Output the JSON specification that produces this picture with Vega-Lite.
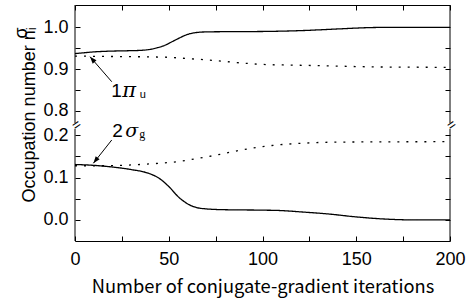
{
  "$schema": "https://vega.github.io/schema/vega-lite/v6.json",
  "autosize": {"type": "none"},
  "padding": {"left": 75, "top": 5, "right": 19, "bottom": 63},
  "background": "white",
  "width": 375,
  "height": 236,
  "config": {
    "view": {"stroke": null},
    "axis": {
      "domainColor": "black", "domainWidth": 1, "tickColor": "black", "tickWidth": 1,
      "tickSize": -5, "grid": false, "labelFont": "Liberation Sans", "labelFontSize": 18,
      "labelColor": "black", "labelOverlap": false, "labelFlush": false,
      "titleColor": "black", "titleFontWeight": "normal"
    }
  },
  "datasets": {
    "top": [
      {"x": 0, "n": 0.937, "s": "solid"}, {"x": 5, "n": 0.939, "s": "solid"}, {"x": 10, "n": 0.941, "s": "solid"},
      {"x": 20, "n": 0.943, "s": "solid"}, {"x": 30, "n": 0.944, "s": "solid"}, {"x": 36, "n": 0.945, "s": "solid"},
      {"x": 40, "n": 0.947, "s": "solid"}, {"x": 44, "n": 0.951, "s": "solid"}, {"x": 48, "n": 0.957, "s": "solid"},
      {"x": 52, "n": 0.966, "s": "solid"}, {"x": 56, "n": 0.975, "s": "solid"}, {"x": 60, "n": 0.983, "s": "solid"},
      {"x": 64, "n": 0.987, "s": "solid"}, {"x": 70, "n": 0.989, "s": "solid"}, {"x": 80, "n": 0.9895, "s": "solid"},
      {"x": 100, "n": 0.990, "s": "solid"}, {"x": 120, "n": 0.992, "s": "solid"}, {"x": 140, "n": 0.996, "s": "solid"},
      {"x": 155, "n": 0.999, "s": "solid"}, {"x": 170, "n": 1.0, "s": "solid"}, {"x": 200, "n": 1.0, "s": "solid"},
      {"x": 0, "n": 0.931, "s": "dotted"}, {"x": 20, "n": 0.930, "s": "dotted"}, {"x": 40, "n": 0.929, "s": "dotted"},
      {"x": 50, "n": 0.928, "s": "dotted"}, {"x": 60, "n": 0.925, "s": "dotted"}, {"x": 70, "n": 0.922, "s": "dotted"},
      {"x": 80, "n": 0.918, "s": "dotted"}, {"x": 90, "n": 0.914, "s": "dotted"}, {"x": 100, "n": 0.911, "s": "dotted"},
      {"x": 120, "n": 0.909, "s": "dotted"}, {"x": 140, "n": 0.907, "s": "dotted"}, {"x": 160, "n": 0.905, "s": "dotted"},
      {"x": 200, "n": 0.904, "s": "dotted"}
    ],
    "bottom": [
      {"x": 0, "n": 0.131, "s": "solid"}, {"x": 10, "n": 0.129, "s": "solid"}, {"x": 20, "n": 0.125, "s": "solid"},
      {"x": 30, "n": 0.119, "s": "solid"}, {"x": 40, "n": 0.109, "s": "solid"}, {"x": 45, "n": 0.098, "s": "solid"},
      {"x": 50, "n": 0.079, "s": "solid"}, {"x": 55, "n": 0.055, "s": "solid"}, {"x": 60, "n": 0.038, "s": "solid"},
      {"x": 65, "n": 0.029, "s": "solid"}, {"x": 70, "n": 0.026, "s": "solid"}, {"x": 80, "n": 0.024, "s": "solid"},
      {"x": 100, "n": 0.023, "s": "solid"}, {"x": 110, "n": 0.022, "s": "solid"}, {"x": 120, "n": 0.019, "s": "solid"},
      {"x": 135, "n": 0.014, "s": "solid"}, {"x": 150, "n": 0.007, "s": "solid"}, {"x": 165, "n": 0.002, "s": "solid"},
      {"x": 180, "n": 0.0, "s": "solid"}, {"x": 200, "n": 0.0, "s": "solid"},
      {"x": 0, "n": 0.128, "s": "dotted"}, {"x": 15, "n": 0.128, "s": "dotted"}, {"x": 30, "n": 0.130, "s": "dotted"},
      {"x": 45, "n": 0.134, "s": "dotted"}, {"x": 55, "n": 0.138, "s": "dotted"}, {"x": 65, "n": 0.145, "s": "dotted"},
      {"x": 75, "n": 0.153, "s": "dotted"}, {"x": 85, "n": 0.162, "s": "dotted"}, {"x": 95, "n": 0.170, "s": "dotted"},
      {"x": 105, "n": 0.176, "s": "dotted"}, {"x": 120, "n": 0.181, "s": "dotted"}, {"x": 140, "n": 0.184, "s": "dotted"},
      {"x": 200, "n": 0.185, "s": "dotted"}
    ],
    "frameTop": [{"x": 0, "y": 0.7705, "y2": 1.0535}, {"x": 200, "y": 0.7705, "y2": 1.0535}],
    "frameBot": [{"x": 0, "y": -0.05, "y2": 0.215}, {"x": 200, "y": -0.05, "y2": 0.215}],
    "arrowTop": [{"x": 19.6, "y": 0.8695, "x2": 8, "y2": 0.9295}],
    "arrowBot": [{"x": 19.6, "y": 0.189, "x2": 9.8, "y2": 0.134}],
    "breaks": [{"x": 0, "y": 0.7705}, {"x": 200, "y": 0.7705}]
  },
  "layer": [
    {
      "data": {"name": "top"},
      "mark": {"type": "line", "color": "black", "strokeWidth": 1.3, "interpolate": "monotone"},
      "encoding": {
        "x": {"field": "x", "type": "quantitative", "scale": {"domain": [0, 200], "nice": false},
              "axis": {"orient": "top", "values": [0, 25, 50, 75, 100, 125, 150, 175, 200], "labels": false, "title": null}},
        "y": {"field": "n", "type": "quantitative", "scale": {"domain": [0.4875, 1.0535], "nice": false, "zero": false},
              "axis": {"orient": "left", "domain": false, "values": [0.8, 0.85, 0.9, 0.95, 1.0], "labelPadding": 12,
                       "labelExpr": "abs(datum.value*10 - round(datum.value*10)) < 0.001 ? format(datum.value, '.1f') : ''",
                       "title": ["σ", "Occupation number nᵢ"], "titleFont": "Liberation Sans", "titleFontSize": 18,
                       "titleAngle": -90, "titleAlign": "right", "titleBaseline": "middle", "titleLineHeight": 8,
                       "titleX": -54, "titleY": 22}},
        "strokeDash": {"field": "s", "type": "nominal", "scale": {"domain": ["solid", "dotted"], "range": [[1, 0], [2, 7]]}, "legend": null}
      }
    },
    {
      "data": {"name": "top"},
      "mark": {"type": "line", "opacity": 0},
      "encoding": {
        "x": {"field": "x", "type": "quantitative", "axis": null},
        "y": {"field": "n", "type": "quantitative", "scale": {"domain": [0.4875, 1.0535], "nice": false, "zero": false},
              "axis": {"orient": "right", "domain": false, "values": [0.8, 0.85, 0.9, 0.95, 1.0], "labels": false, "title": null}},
        "detail": {"field": "s"}
      }
    },
    {
      "data": {"name": "frameTop"},
      "mark": {"type": "rule", "color": "black", "strokeWidth": 1},
      "encoding": {
        "x": {"field": "x", "type": "quantitative", "axis": null},
        "y": {"field": "y", "type": "quantitative", "scale": {"domain": [0.4875, 1.0535], "nice": false, "zero": false}, "axis": null},
        "y2": {"field": "y2"}
      }
    },
    {
      "data": {"name": "arrowTop"},
      "mark": {"type": "rule", "color": "black", "strokeWidth": 1},
      "encoding": {
        "x": {"field": "x", "type": "quantitative", "axis": null},
        "y": {"field": "y", "type": "quantitative", "scale": {"domain": [0.4875, 1.0535], "nice": false, "zero": false}, "axis": null},
        "x2": {"field": "x2"}, "y2": {"field": "y2"}
      }
    },
    {
      "data": {"name": "arrowTop"},
      "mark": {"type": "point", "shape": "M0,0L-0.5,1.4L0.5,1.4Z", "filled": true, "color": "black", "size": 100, "angle": 319, "opacity": 1},
      "encoding": {
        "x": {"field": "x2", "type": "quantitative", "axis": null},
        "y": {"field": "y2", "type": "quantitative", "scale": {"domain": [0.4875, 1.0535], "nice": false, "zero": false}, "axis": null}
      }
    },
    {
      "data": {"values": [{"x": 20.4, "y": 0.832, "t": "1"}]},
      "mark": {"type": "text", "align": "left", "baseline": "alphabetic", "dx": -2, "font": "Liberation Sans", "fontSize": 19, "color": "black"},
      "encoding": {"x": {"field": "x", "type": "quantitative", "axis": null},
                   "y": {"field": "y", "type": "quantitative", "scale": {"domain": [0.4875, 1.0535], "nice": false, "zero": false}, "axis": null},
                   "text": {"field": "t"}}
    },
    {
      "data": {"values": [{"x": 20.4, "y": 0.832, "t": "π"}]},
      "mark": {"type": "text", "align": "left", "baseline": "alphabetic", "dx": 9, "font": "DejaVu Serif", "fontStyle": "italic", "fontSize": 21, "color": "black"},
      "encoding": {"x": {"field": "x", "type": "quantitative", "axis": null},
                   "y": {"field": "y", "type": "quantitative", "scale": {"domain": [0.4875, 1.0535], "nice": false, "zero": false}, "axis": null},
                   "text": {"field": "t"}}
    },
    {
      "data": {"values": [{"x": 20.4, "y": 0.832, "t": "u"}]},
      "mark": {"type": "text", "align": "left", "baseline": "alphabetic", "dx": 26.5, "dy": 1, "font": "Liberation Sans", "fontSize": 11, "color": "black"},
      "encoding": {"x": {"field": "x", "type": "quantitative", "axis": null},
                   "y": {"field": "y", "type": "quantitative", "scale": {"domain": [0.4875, 1.0535], "nice": false, "zero": false}, "axis": null},
                   "text": {"field": "t"}}
    },
    {
      "data": {"name": "breaks"},
      "mark": {"type": "text", "text": "=", "align": "center", "baseline": "middle", "dy": 3, "angle": -35, "font": "Liberation Sans", "fontSize": 14, "color": "black"},
      "encoding": {"x": {"field": "x", "type": "quantitative", "axis": null},
                   "y": {"field": "y", "type": "quantitative", "scale": {"domain": [0.4875, 1.0535], "nice": false, "zero": false}, "axis": null}}
    },
    {
      "data": {"name": "bottom"},
      "mark": {"type": "line", "color": "black", "strokeWidth": 1.3, "interpolate": "monotone"},
      "encoding": {
        "x": {"field": "x", "type": "quantitative",
              "axis": {"orient": "bottom", "values": [0, 25, 50, 75, 100, 125, 150, 175, 200], "labelPadding": 14,
                       "labelExpr": "datum.value % 50 === 0 ? datum.label : ''",
                       "title": "Number of conjugate-gradient iterations", "titleFont": "Noto Sans CJK JP", "titleFontSize": 18.3, "titlePadding": 10}},
        "y": {"field": "n", "type": "quantitative", "scale": {"domain": [-0.05, 0.5084], "nice": false, "zero": false},
              "axis": {"orient": "left", "domain": false, "values": [0, 0.05, 0.1, 0.15, 0.2], "labelPadding": 12,
                       "labelExpr": "abs(datum.value*10 - round(datum.value*10)) < 0.001 ? format(datum.value, '.1f') : ''",
                       "title": null}},
        "strokeDash": {"field": "s", "type": "nominal", "scale": {"domain": ["solid", "dotted"], "range": [[1, 0], [2, 7]]}, "legend": null}
      }
    },
    {
      "data": {"name": "bottom"},
      "mark": {"type": "line", "opacity": 0},
      "encoding": {
        "x": {"field": "x", "type": "quantitative", "axis": null},
        "y": {"field": "n", "type": "quantitative", "scale": {"domain": [-0.05, 0.5084], "nice": false, "zero": false},
              "axis": {"orient": "right", "domain": false, "values": [0, 0.05, 0.1, 0.15, 0.2], "labels": false, "title": null}},
        "detail": {"field": "s"}
      }
    },
    {
      "data": {"name": "frameBot"},
      "mark": {"type": "rule", "color": "black", "strokeWidth": 1},
      "encoding": {
        "x": {"field": "x", "type": "quantitative", "axis": null},
        "y": {"field": "y", "type": "quantitative", "scale": {"domain": [-0.05, 0.5084], "nice": false, "zero": false}, "axis": null},
        "y2": {"field": "y2"}
      }
    },
    {
      "data": {"name": "arrowBot"},
      "mark": {"type": "rule", "color": "black", "strokeWidth": 1},
      "encoding": {
        "x": {"field": "x", "type": "quantitative", "axis": null},
        "y": {"field": "y", "type": "quantitative", "scale": {"domain": [-0.05, 0.5084], "nice": false, "zero": false}, "axis": null},
        "x2": {"field": "x2"}, "y2": {"field": "y2"}
      }
    },
    {
      "data": {"name": "arrowBot"},
      "mark": {"type": "point", "shape": "M0,0L-0.5,1.4L0.5,1.4Z", "filled": true, "color": "black", "size": 100, "angle": 218, "opacity": 1},
      "encoding": {
        "x": {"field": "x2", "type": "quantitative", "axis": null},
        "y": {"field": "y2", "type": "quantitative", "scale": {"domain": [-0.05, 0.5084], "nice": false, "zero": false}, "axis": null}
      }
    },
    {
      "data": {"values": [{"x": 20.4, "y": 0.1955, "t": "2"}]},
      "mark": {"type": "text", "align": "left", "baseline": "alphabetic", "dx": -1, "font": "Liberation Sans", "fontSize": 19, "color": "black"},
      "encoding": {"x": {"field": "x", "type": "quantitative", "axis": null},
                   "y": {"field": "y", "type": "quantitative", "scale": {"domain": [-0.05, 0.5084], "nice": false, "zero": false}, "axis": null},
                   "text": {"field": "t"}}
    },
    {
      "data": {"values": [{"x": 20.4, "y": 0.1955, "t": "σ"}]},
      "mark": {"type": "text", "align": "left", "baseline": "alphabetic", "dx": 12, "font": "DejaVu Serif", "fontStyle": "italic", "fontSize": 19, "color": "black"},
      "encoding": {"x": {"field": "x", "type": "quantitative", "axis": null},
                   "y": {"field": "y", "type": "quantitative", "scale": {"domain": [-0.05, 0.5084], "nice": false, "zero": false}, "axis": null},
                   "text": {"field": "t"}}
    },
    {
      "data": {"values": [{"x": 20.4, "y": 0.1955, "t": "g"}]},
      "mark": {"type": "text", "align": "left", "baseline": "alphabetic", "dx": 26, "dy": 1, "font": "Liberation Serif", "fontSize": 12, "color": "black"},
      "encoding": {"x": {"field": "x", "type": "quantitative", "axis": null},
                   "y": {"field": "y", "type": "quantitative", "scale": {"domain": [-0.05, 0.5084], "nice": false, "zero": false}, "axis": null},
                   "text": {"field": "t"}}
    }
  ],
  "resolve": {"scale": {"y": "independent"}, "axis": {"y": "independent", "x": "independent"}}
}
